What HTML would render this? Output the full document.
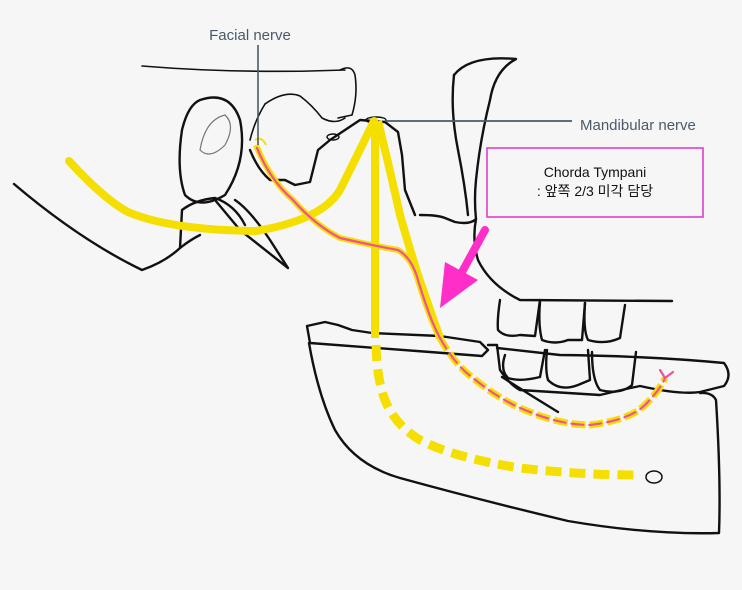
<!DOCTYPE html>
<html><head><meta charset="utf-8"><style>
html,body{margin:0;padding:0;background:#f6f6f6;}
svg{display:block}
</style></head><body>
<svg width="742" height="590" viewBox="0 0 742 590" xmlns="http://www.w3.org/2000/svg">
<rect width="742" height="590" fill="#f6f6f6"/>
<g fill="none" stroke="#111" stroke-width="2.4" stroke-linecap="round" stroke-linejoin="round">
<path d="M142 66 Q240 74 345 70" stroke-width="1.6"/>
<path d="M340 70 Q352 64 355 75 Q358 95 352 115 L338 118" stroke-width="1.6"/>
<path d="M265 104 Q285 90 300 96 Q312 105 322 118 Q335 125 345 118" stroke-width="1.6"/>
<path d="M265 104 Q255 120 250 140" stroke-width="1.6"/>
<path d="M200 100 Q230 90 240 120 Q248 160 225 195 Q200 210 185 195 Q176 170 182 130 Q188 105 200 100Z"/>
<path d="M200 150 Q205 120 225 115 Q236 125 225 145 Q210 160 200 150" stroke="#777" stroke-width="1.2"/>
<path d="M14 184 Q80 240 142 270 Q165 262 180 248 L182 210 Q195 200 215 198 Q235 205 245 225"/>
<path d="M215 200 L240 230 L288 268 L270 240 Q250 210 235 200"/>
<path d="M180 248 Q190 240 200 235"/>
<path d="M250 150 Q258 170 270 180 L285 180 L295 185 L310 182 L318 150 L330 140 L348 128 L360 120 L385 122 L398 132 L402 155 L405 190 L415 215"/>
<ellipse cx="333" cy="137" rx="6" ry="3" stroke-width="1.4"/>
<ellipse cx="376" cy="120" rx="10" ry="3" stroke-width="1.4"/>
<path d="M454 75 Q470 55 516 59 Q495 70 490 100 Q480 140 476 180 Q474 200 476 219 Q470 225 455 222 L445 218 Q438 215 420 215"/>
<path d="M454 75 Q450 110 458 150 Q465 185 468 215"/>
<path d="M476 219 Q472 240 478 260 Q490 285 520 300 L672 301"/>
<path d="M500 300 Q497 320 498 330 Q505 338 520 335 L535 336 L540 300"/>
<path d="M540 302 Q538 325 542 340 Q555 345 568 340 L582 340 L585 303"/>
<path d="M585 303 Q583 330 588 340 Q605 345 620 338 L625 305"/>
<path d="M307 326 L325 322 L338 325 L352 330 L372 333 L440 336 L480 342 L488 350 L482 356 L430 352 L310 343 Z"/>
<path d="M309 343 Q318 395 335 430 Q355 465 400 478 Q480 500 568 521 Q650 535 719 533 Q721 480 716 400 Q712 392 700 393"/>
<path d="M488 345 L497 345 L500 370 Q510 385 520 390 L600 395 Q630 388 640 386 Q680 395 700 392 L724 386 Q733 375 724 363 Q650 356 560 355 L497 348"/>
<path d="M505 355 Q500 370 508 378 Q520 382 540 377 L545 350"/>
<path d="M547 350 Q545 370 548 380 Q560 392 578 385 L590 380 L588 350"/>
<path d="M592 352 Q592 380 600 390 Q620 395 632 385 L636 352"/>
<path d="M502 377 Q530 395 558 412"/>
<ellipse cx="654" cy="477" rx="8" ry="6" stroke-width="1.5"/>
</g>
<g fill="none" stroke="#f5df00" stroke-width="8" stroke-linecap="butt">
<path d="M69 161 Q105 200 128 212 Q170 230 256 231 Q322 220 340 190 Q355 160 374 121" stroke-linecap="round"/>
<path d="M375 121 L375 338"/>
<path d="M378 121 Q390 170 400 215 Q410 250 418 275 Q430 310 440 338"/>
<path d="M256 145 Q270 180 293 200 Q315 225 340 238 Q370 245 398 250 Q412 258 418 280 Q430 320 440 338" stroke-width="6"/>
<path d="M440 338 Q455 365 473 378 Q500 400 525 410 Q560 425 590 425 Q630 420 645 405 Q660 390 665 378" stroke-width="7" stroke-dasharray="14 4"/>
<path d="M376 345 Q377 380 385 400 Q395 425 420 440 Q455 458 520 468 Q580 475 640 475" stroke-width="9" stroke-dasharray="16 8"/>
</g>
<path d="M255 140 Q262 136 266 145" fill="none" stroke="#f5df00" stroke-width="2"/>
<g fill="none" stroke="#f0509a" stroke-width="2.2" stroke-linecap="round">
<path d="M257 148 Q270 180 293 200 Q315 225 340 238 Q370 245 398 250 Q412 258 418 280 Q430 320 440 338"/>
<path d="M440 338 Q455 365 473 378 Q500 400 525 410 Q560 425 590 425 Q630 420 645 405 Q660 390 665 378" stroke-dasharray="12 6"/>
<path d="M665 378 L660 370 M665 378 L673 372"/>
</g>
<path d="M258 45 L258 145" stroke="#4a5a6a" stroke-width="1.6"/>
<path d="M385 121 L572 121" stroke="#4a5a6a" stroke-width="1.8"/>
<text x="250" y="40" font-family="'Liberation Sans', sans-serif" font-size="15" fill="#4a5a6a" text-anchor="middle">Facial nerve</text>
<text x="580" y="130" font-family="'Liberation Sans', sans-serif" font-size="15" fill="#4a5a6a">Mandibular nerve</text>
<rect x="487" y="148" width="216" height="69" fill="none" stroke="#e040d0" stroke-width="1.6"/>
<text x="595" y="177" font-family="'Liberation Sans','Noto Sans CJK KR',sans-serif" font-size="14" fill="#111" text-anchor="middle">Chorda Tympani</text>
<text x="595" y="196" font-family="'Liberation Sans','Noto Sans CJK KR',sans-serif" font-size="14" fill="#111" text-anchor="middle">: 앞쪽 2/3 미각 담당</text>
<path d="M485 230 L462 272" stroke="#ff2ec8" stroke-width="8" stroke-linecap="round"/>
<polygon points="440,308 445,262 478,280" fill="#ff2ec8"/>
</svg>
</body></html>
